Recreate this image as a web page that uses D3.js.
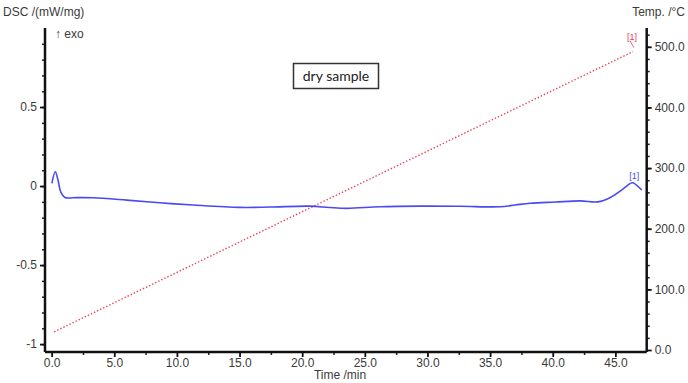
<!doctype html>
<head>
  <meta charset="utf-8">
  <script src="https://cdnjs.cloudflare.com/ajax/libs/d3/7.8.2/d3.min.js"></script>
</head>
<style>
    body { margin: 0; background: white; }
    svg { display: block; font-family: "Liberation Sans", Arial, sans-serif; }
    .tick text { fill: #3a3a3a; font-size: 12px; }
</style>
<body>
    <div id="chart"></div>
    <script>
        // Datos
        const dscTime = [0.02, 0.29, 0.5, 0.74, 1.06, 2.0, 3.3, 6.0, 8.65, 11.3, 15.0, 17.4, 20.6, 22.2, 23.6, 26.2, 29.4, 32.6, 35.8, 37.0, 38.2, 40.2, 42.2, 43.6, 44.6, 45.6, 46.2, 46.4, 47.1];
        const dscValue = [0.017, 0.09, 0.04, -0.04, -0.072, -0.073, -0.074, -0.089, -0.106, -0.12, -0.135, -0.133, -0.127, -0.136, -0.141, -0.131, -0.127, -0.128, -0.131, -0.12, -0.109, -0.101, -0.094, -0.1, -0.072, -0.019, 0.017, 0.021, -0.025];

        const tempTime = [0.2, 10.0, 20.0, 30.0, 40.0, 46.4];
        const tempValue = [30, 128, 228, 328, 428, 492];

        const timeTicks = [0, 5, 10, 15, 20, 25, 30, 35, 40, 45];
        const dscTicks = [-1, -0.5, 0, 0.5];
        const tempTicks = [0, 100, 200, 300, 400, 500];

        const width = 688, height = 383;
        const svg = d3.select('#chart').append('svg')
            .attr('width', width)
            .attr('height', height);

        const x = d3.scaleLinear().domain([-0.53, 47.5]).range([45, 646.7]);
        const yL = d3.scaleLinear().domain([-1.05, 1.0]).range([352, 28]);
        const yR = d3.scaleLinear().domain([-3.3, 531]).range([352, 28]);

        // Ejes: ticks menores primero
        svg.append('g')
            .attr('transform', 'translate(0,352)')
            .call(d3.axisBottom(x).tickValues(d3.range(2.5, 47, 5)).tickSize(3).tickFormat(''))
            .call(g => g.select('.domain').remove())
            .selectAll('line').attr('stroke', '#222').attr('stroke-width', 1.5);
        svg.append('g')
            .attr('transform', 'translate(45,0)')
            .call(d3.axisLeft(yL).tickValues(d3.range(-10, 10).map(d => d / 10)).tickSize(3).tickFormat(''))
            .call(g => g.select('.domain').remove())
            .selectAll('line').attr('stroke', '#222').attr('stroke-width', 1.5);
        svg.append('g')
            .attr('transform', 'translate(646.7,0)')
            .call(d3.axisRight(yR).tickValues(d3.range(20, 530, 20)).tickSize(3).tickFormat(''))
            .call(g => g.select('.domain').remove())
            .selectAll('line').attr('stroke', '#222').attr('stroke-width', 1.5);

        // Ejes principales
        const xAxis = svg.append('g')
            .attr('transform', 'translate(0,352)')
            .call(d3.axisBottom(x).tickValues(timeTicks).tickSize(5).tickPadding(1).tickFormat(d3.format('.1f')));
        const leftAxis = svg.append('g')
            .attr('transform', 'translate(45,0)')
            .call(d3.axisLeft(yL).tickValues(dscTicks).tickSize(5).tickPadding(3).tickFormat(d => String(d)));
        const rightAxis = svg.append('g')
            .attr('transform', 'translate(646.7,0)')
            .call(d3.axisRight(yR).tickValues(tempTicks).tickSize(5).tickPadding(3).tickFormat(d3.format('.1f')));

        [xAxis, leftAxis, rightAxis].forEach(a => {
            a.select('.domain').attr('stroke', '#111').attr('stroke-width', 2.5);
            a.selectAll('.tick line').attr('stroke', '#111').attr('stroke-width', 1.8);
        });
        // dominios sin los extremos
        xAxis.select('.domain').attr('d', `M${x.range()[0]},0H${x.range()[1]}`);
        leftAxis.select('.domain').attr('d', `M0,${yL.range()[0]}V${yL.range()[1]}`);
        rightAxis.select('.domain').attr('d', `M0,${yR.range()[0]}V${yR.range()[1]}`);

        // Temperatura (punteada roja)
        const tempData = tempTime.map((t, i) => ({t, v: tempValue[i]}));
        svg.append('path')
            .datum(tempData)
            .attr('fill', 'none')
            .attr('stroke', '#e8405a')
            .attr('stroke-width', 1.4)
            .attr('stroke-dasharray', '1.4,2')
            .attr('d', d3.line().x(d => x(d.t)).y(d => yR(d.v)));

        // DSC (azul)
        const dscData = dscTime.map((t, i) => ({t, v: dscValue[i]}));
        svg.append('path')
            .datum(dscData)
            .attr('fill', 'none')
            .attr('stroke', '#4a4af0')
            .attr('stroke-width', 1.6)
            .attr('d', d3.line().curve(d3.curveCatmullRom).x(d => x(d.t)).y(d => yL(d.v)));

        // Etiquetas [1]
        const lastT = tempData[tempData.length - 1];
        svg.append('line')
            .attr('x1', x(lastT.t) + 1).attr('y1', yR(lastT.v) - 4)
            .attr('x2', x(lastT.t) - 3).attr('y2', yR(lastT.v) - 11)
            .attr('stroke', '#e8405a').attr('stroke-width', 0.8);
        svg.append('text')
            .attr('x', x(lastT.t) - 1).attr('y', yR(lastT.v) - 12)
            .attr('text-anchor', 'middle')
            .attr('font-size', 9).attr('fill', '#e8405a')
            .text('[1]');
        svg.append('text')
            .attr('x', x(46.5)).attr('y', yL(0.045))
            .attr('text-anchor', 'middle')
            .attr('font-size', 9).attr('fill', '#4a4af0')
            .text('[1]');

        // Titulos de ejes
        svg.append('text').attr('x', 3).attr('y', 16)
            .attr('font-size', 12).attr('fill', '#3a3a3a')
            .text('DSC /(mW/mg)');
        svg.append('text').attr('x', 685).attr('y', 16)
            .attr('text-anchor', 'end')
            .attr('font-size', 12).attr('fill', '#3a3a3a')
            .text('Temp. /°C');
        svg.append('text').attr('x', 55).attr('y', 38)
            .attr('font-size', 12).attr('fill', '#3a3a3a')
            .text('↑ exo');
        svg.append('text').attr('x', 340).attr('y', 379)
            .attr('text-anchor', 'middle')
            .attr('font-size', 12).attr('fill', '#3a3a3a')
            .text('Time /min');

        // Caja "dry sample"
        svg.append('rect')
            .attr('x', 293.5).attr('y', 63.5)
            .attr('width', 85).attr('height', 25)
            .attr('fill', 'white').attr('stroke', '#333').attr('stroke-width', 1.5);
        svg.append('text')
            .attr('x', 336).attr('y', 81)
            .attr('text-anchor', 'middle')
            .attr('font-family', 'Lato, "Open Sans", sans-serif')
            .attr('font-size', 14).attr('fill', '#222')
            .text('dry sample');
    </script>
</body>
